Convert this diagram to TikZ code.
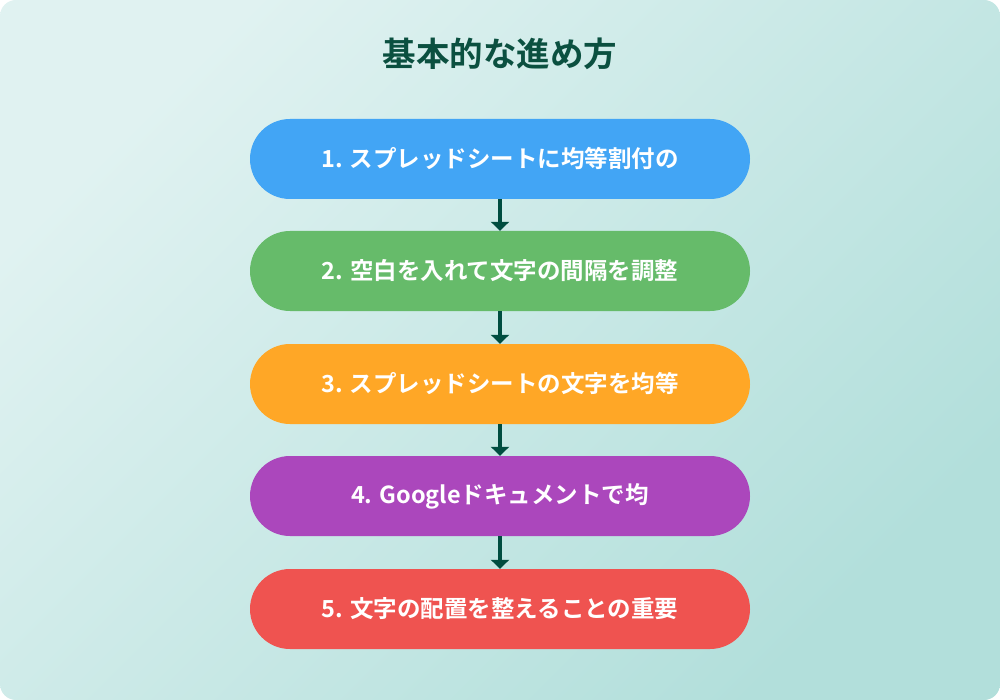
\documentclass[tikz,border=0pt]{standalone}
\usepackage{fontspec}
\setmainfont{Noto Sans CJK JP}[BoldFont={Noto Sans CJK JP Bold}]
\usetikzlibrary{calc,arrows.meta}

\definecolor{bgtop}{HTML}{E0F2F1}
\definecolor{bgbot}{HTML}{B2DFDB}
\definecolor{titlegreen}{HTML}{0B5040}
\definecolor{arrowgreen}{HTML}{004D40}
\definecolor{stepblue}{HTML}{42A5F5}
\definecolor{stepgreen}{HTML}{66BB6A}
\definecolor{steporange}{HTML}{FFA726}
\definecolor{steppurple}{HTML}{AB47BC}
\definecolor{stepred}{HTML}{EF5350}

\tikzset{
  stepbox/.style={rectangle, rounded corners=40pt, minimum width=500pt,
    minimum height=80pt, text=white, font=\fontsize{23.5}{28}\selectfont\bfseries,
    inner sep=0pt},
  flow/.style={draw=arrowgreen, line width=3.5pt, -{Triangle[width=18pt,length=9pt]}}
}

\begin{document}
\begin{tikzpicture}[x=1pt, y=-1pt]
    \useasboundingbox (0,0) rectangle (1000,700);
    \shade[top color=bgtop, bottom color=bgbot, shading angle=45, rounded corners=16pt]
      (0,0) rectangle (1000,700);
    \node[text=titlegreen, font=\fontsize{33.5}{38}\selectfont\bfseries] (title) at (500,54) {基本的な進め方};
    \foreach \i/\y/\col/\txt in {
      1/159/stepblue/{1. スプレッドシートに均等割付の},
      2/271/stepgreen/{2. 空白を入れて文字の間隔を調整},
      3/384/steporange/{3. スプレッドシートの文字を均等},
      4/496/steppurple/{4. Googleドキュメントで均},
      5/609/stepred/{5. 文字の配置を整えることの重要}}{
      \node[stepbox, fill=\col] (s\i) at (500,\y) {\txt};
    }
    \foreach \a/\b in {1/2,2/3,3/4,4/5}
      \draw[flow] (s\a) -- (s\b);
  \end{tikzpicture}
\end{document}
